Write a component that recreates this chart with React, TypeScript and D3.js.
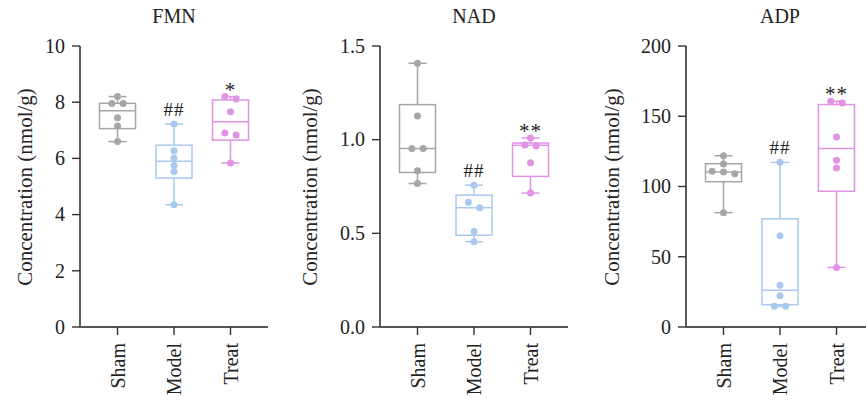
import React from "react";
import * as d3 from "d3";

const groups = ["Sham", "Model", "Treat"];
const colors = ["#a6a6a6", "#a9c9ee", "#e093e3"];

// FMN
const fmnValues = [
  [8.2, 7.95, 7.95, 7.45, 7.15, 6.6],
  [7.22, 6.27, 6.01, 5.75, 5.53, 4.35],
  [8.2, 8.11, 7.66, 6.9, 6.83, 5.84],
];
// q1, median, q3
const fmnBoxes = [
  [7.06, 7.7, 7.96],
  [5.3, 5.9, 6.47],
  [6.65, 7.3, 8.08],
];
const fmnMarks = ["", "##", "*"];
const fmnTicks = [0, 2, 4, 6, 8, 10];

// NAD
const nadValues = [
  [1.408, 1.126, 0.953, 0.953, 0.834, 0.766],
  [0.757, 0.666, 0.636, 0.51, 0.455],
  [1.009, 0.971, 0.966, 0.877, 0.715],
];
const nadBoxes = [
  [0.825, 0.953, 1.187],
  [0.49, 0.636, 0.704],
  [0.804, 0.97, 0.982],
];
const nadMarks = ["", "##", "**"];
const nadTicks = [0, 0.5, 1.0, 1.5];

// ADP
const adpValues = [
  [121.9, 116, 110.8, 110.3, 109.1, 81.4],
  [117.2, 64.9, 29.8, 22.3, 14.7, 14.7],
  [160.7, 159.5, 135.2, 118.6, 113.2, 42.4],
];
const adpBoxes = [
  [103.4, 110.3, 116.2],
  [15.9, 26.1, 77.0],
  [96.6, 127.1, 158.3],
];
const adpMarks = ["", "##", "**"];
const adpTicks = [0, 50, 100, 150, 200];

const panels = [
  { title: "FMN", values: fmnValues, boxes: fmnBoxes, marks: fmnMarks, ticks: fmnTicks, fmt: d3.format("d"), axisX: 80, labelGap: 48 },
  { title: "NAD", values: nadValues, boxes: nadBoxes, marks: nadMarks, ticks: nadTicks, fmt: d3.format(".1f"), axisX: 380, labelGap: 63 },
  { title: "ADP", values: adpValues, boxes: adpBoxes, marks: adpMarks, ticks: adpTicks, fmt: d3.format("d"), axisX: 686, labelGap: 67 },
];

const FONT = "'Liberation Serif', 'Times New Roman', serif";
const TOP = 46;
const BOTTOM = 327;
const TEXT = "#222";
const AXIS = "#333";

// spread points that sit at (almost) the same height
function dodge(vals: number[], y: (v: number) => number, step: number) {
  const sorted = vals.map((v, i) => ({ v, i })).sort((a, b) => b.v - a.v);
  const out: { v: number; dx: number }[] = [];
  let cluster: { v: number; i: number }[] = [];
  const flush = () => {
    cluster.forEach((c, k) => out.push({ v: c.v, dx: (k - (cluster.length - 1) / 2) * step }));
    cluster = [];
  };
  sorted.forEach((p) => {
    if (cluster.length && Math.abs(y(p.v) - y(cluster[0].v)) >= 6) flush();
    cluster.push(p);
  });
  flush();
  return out;
}

function Panel({ p }: { p: (typeof panels)[number] }) {
  const yMax = p.ticks[p.ticks.length - 1];
  const y = d3.scaleLinear().domain([0, yMax]).range([BOTTOM, TOP]);
  const x = d3.scalePoint<string>().domain(groups).range([p.axisX + 37.5, p.axisX + 150.5]);
  const boxW = 36;
  const capW = 18;

  return (
    <g>
      <text x={x("Model")} y={23} textAnchor="middle" fontSize={20} fill={TEXT} fontFamily={FONT}>
        {p.title}
      </text>
      {/* y axis */}
      <line x1={p.axisX} x2={p.axisX} y1={TOP} y2={BOTTOM} stroke={AXIS} strokeWidth={1.6} />
      {p.ticks.map((t) => (
        <g key={t}>
          <line x1={p.axisX - 8} x2={p.axisX} y1={y(t)} y2={y(t)} stroke={AXIS} strokeWidth={1.4} />
          <text x={p.axisX - 15} y={y(t)} dy="0.34em" textAnchor="end" fontSize={20} fill={TEXT} fontFamily={FONT}>
            {p.fmt(t)}
          </text>
        </g>
      ))}
      <text
        transform={`translate(${p.axisX - p.labelGap},${(TOP + BOTTOM) / 2 + 0.5}) rotate(-90)`}
        textAnchor="middle"
        fontSize={21}
        fill={TEXT}
        fontFamily={FONT}
      >
        Concentration (nmol/g)
      </text>
      {/* x axis */}
      <line x1={p.axisX - 0.8} x2={p.axisX + 188} y1={BOTTOM} y2={BOTTOM} stroke="#555" strokeWidth={2} />
      {groups.map((g) => (
        <g key={g}>
          <line x1={x(g)} x2={x(g)} y1={BOTTOM} y2={BOTTOM + 8} stroke={AXIS} strokeWidth={1.4} />
          <text
            transform={`translate(${(x(g) as number) + 7},${BOTTOM + 16}) rotate(-90)`}
            textAnchor="end"
            fontSize={20}
            fill={TEXT}
            fontFamily={FONT}
          >
            {g}
          </text>
        </g>
      ))}
      {/* boxes */}
      {groups.map((g, i) => {
        const cx = x(g) as number;
        const vals = p.values[i];
        const [lo, hi] = d3.extent(vals) as [number, number];
        const [q1, med, q3] = p.boxes[i];
        const c = colors[i];
        const pts = dodge(vals, y, 11.3);
        const mark = p.marks[i];
        return (
          <g key={g}>
            <line x1={cx} x2={cx} y1={y(hi)} y2={y(q3)} stroke={c} strokeWidth={1.5} />
            <line x1={cx} x2={cx} y1={y(q1)} y2={y(lo)} stroke={c} strokeWidth={1.5} />
            <line x1={cx - capW / 2} x2={cx + capW / 2} y1={y(hi)} y2={y(hi)} stroke={c} strokeWidth={1.5} />
            <line x1={cx - capW / 2} x2={cx + capW / 2} y1={y(lo)} y2={y(lo)} stroke={c} strokeWidth={1.5} />
            <rect x={cx - boxW / 2} y={y(q3)} width={boxW} height={y(q1) - y(q3)} fill="none" stroke={c} strokeWidth={1.5} />
            <line x1={cx - boxW / 2} x2={cx + boxW / 2} y1={y(med)} y2={y(med)} stroke={c} strokeWidth={1.5} />
            {pts.map((d, k) => (
              <circle key={k} cx={cx + d.dx} cy={y(d.v)} r={3.5} fill={c} />
            ))}
            {mark && (
              <text
                x={cx}
                y={y(hi) - (mark.startsWith("*") ? 0 : 8)}
                textAnchor="middle"
                fontSize={mark.startsWith("*") ? 21 : 19}
                letterSpacing={1}
                fill={TEXT}
                fontFamily={FONT}
              >
                {mark}
              </text>
            )}
          </g>
        );
      })}
    </g>
  );
}

export default function App() {
  return (
    <svg width={866} height={402} style={{ position: "absolute", left: 0, top: 0, background: "#fff" }}>
      {panels.map((p) => (
        <Panel key={p.title} p={p} />
      ))}
    </svg>
  );
}
